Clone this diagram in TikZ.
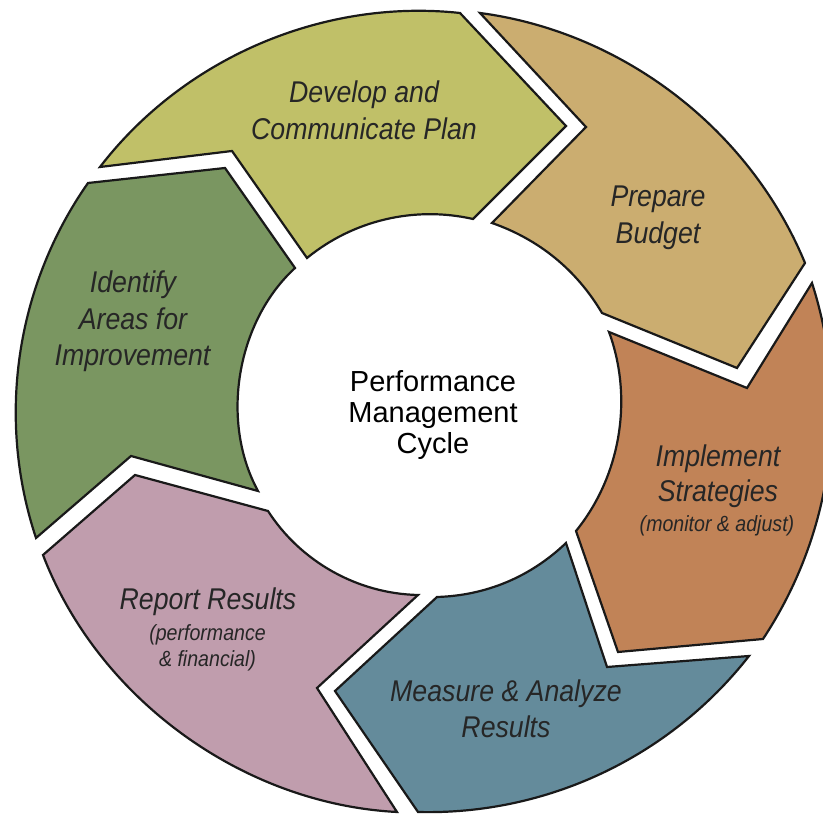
\documentclass[tikz,border=0pt]{standalone}
\usepackage{fontspec}
\setmainfont{Liberation Sans}
\newfontfamily\segfont[FakeStretch=0.89]{Liberation Sans}
\definecolor{cOlive}{HTML}{C0C068}
\definecolor{cTan}{HTML}{CBAD70}
\definecolor{cOrange}{HTML}{C18357}
\definecolor{cBlue}{HTML}{648B9B}
\definecolor{cPurple}{HTML}{C09DAD}
\definecolor{cGreen}{HTML}{7A9661}
\definecolor{labelgray}{HTML}{262626}
\tikzset{
  seg/.style={draw=black!90, line width=2.2pt, line join=miter},
  outerarc/.style={bend left=#1, looseness=0.9},
  innerarc/.style={bend right=#1, looseness=0.9},
  lbl/.style={font=\segfont\itshape\fontsize{30}{36}\selectfont, text=labelgray, anchor=base, inner sep=0pt},
  sublbl/.style={font=\segfont\itshape\fontsize{22}{26}\selectfont, text=labelgray, anchor=base, inner sep=0pt},
  ctr/.style={font=\fontsize{29}{32}\selectfont, text=black, anchor=base, inner sep=0pt}
}
\begin{document}
\begin{tikzpicture}[x=1pt,y=1pt]
\clip (0,0) rectangle (823,814);
\fill[white] (0,0) rectangle (823,814);
% Develop and Communicate Plan
\draw[seg, fill=cOlive] (100,647) to[outerarc=29.3] (460,801) -- (566,688) -- (473,595) to[innerarc=26] (307,556) -- (232,663) -- cycle;
% Prepare Budget
\draw[seg, fill=cTan] (480,801) to[outerarc=30] (805,551) -- (737,446) -- (602,501) to[innerarc=20] (492,591) -- (586,687) -- cycle;
% Implement Strategies
\draw[seg, fill=cOrange] (812,531) to[outerarc=25.6] (763,175) -- (618,162) -- (576,283) to[innerarc=29.6] (609,482) -- (747,426) -- cycle;
% Measure & Analyze
\draw[seg, fill=cBlue] (749,158) to[outerarc=26.7] (418,2) -- (335,123) -- (437,217) to[innerarc=21] (566,271) -- (607,147) -- cycle;
% Report Results
\draw[seg, fill=cPurple] (397,2) to[outerarc=33] (43,259) -- (135,339) -- (268,303) to[innerarc=28] (418,219) -- (317,126) -- cycle;
% Identify Areas
\draw[seg, fill=cGreen] (36,276) to[outerarc=26.7] (88,631) -- (225,646) -- (295,546) to[innerarc=38] (258,323) -- (131,358) -- cycle;

% labels
\node[lbl] (dev1) at (364,711) {Develop and};
\node[lbl] (dev2) at (364,674) {Communicate Plan};
\node[lbl] (bud1) at (658,607) {Prepare};
\node[lbl] (bud2) at (658,570) {Budget};
\node[lbl] (imp1) at (718,347) {Implement};
\node[lbl] (imp2) at (718,312) {Strategies};
\node[sublbl] (imp3) at (717,282) {(monitor \& adjust)};
\node[lbl] (mea1) at (506,112) {Measure \& Analyze};
\node[lbl] (mea2) at (506,76) {Results};
\node[lbl] (rep1) at (208,204) {Report Results};
\node[sublbl] (rep2) at (207.5,173) {(performance};
\node[sublbl] (rep3) at (207.5,147) {\& financial)};
\node[lbl] (ide1) at (133,521) {Identify};
\node[lbl] (ide2) at (133,484) {Areas for};
\node[lbl] (ide3) at (132.5,448) {Improvement};
\node[ctr] (c1) at (433,422) {Performance};
\node[ctr] (c2) at (433,391) {Management};
\node[ctr] (c3) at (433,360) {Cycle};
\end{tikzpicture}
\end{document}
